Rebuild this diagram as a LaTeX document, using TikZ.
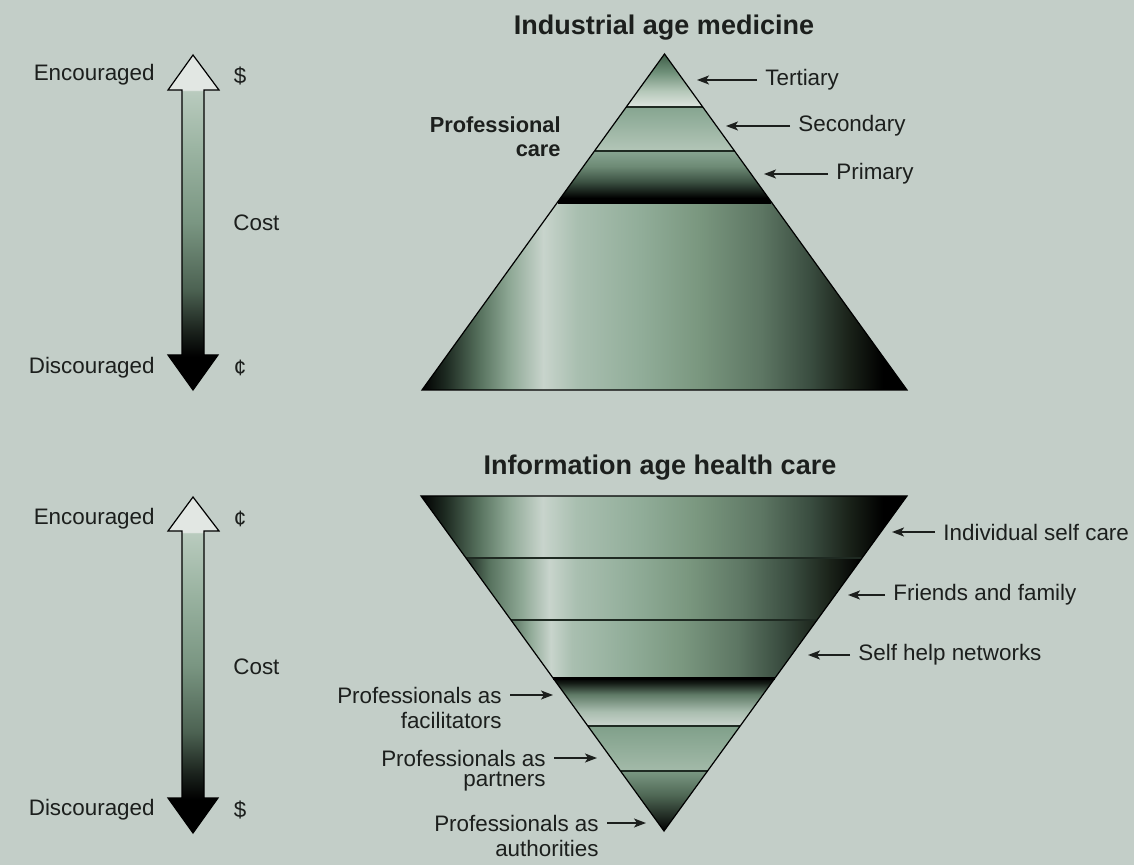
\documentclass[tikz,border=0pt]{standalone}
\usepackage{fontspec}
\setmainfont{Liberation Sans}
\usepackage{tikz}
\usetikzlibrary{arrows.meta}

\definecolor{bg}{HTML}{C3CEC8}
\definecolor{ink}{HTML}{1C1F1D}
\definecolor{rule}{HTML}{1F2A22}
\definecolor{sha}{HTML}{1E2B22}
\definecolor{shb}{HTML}{58735F}
\definecolor{shc}{HTML}{8EA895}
\definecolor{hilite}{HTML}{C8D4CC}
\definecolor{shd}{HTML}{A9BFB0}
\definecolor{she}{HTML}{91AD99}
\definecolor{shf}{HTML}{7A977F}
\definecolor{shg}{HTML}{5D7663}
\definecolor{shh}{HTML}{3A4D40}
\definecolor{shi}{HTML}{1A2219}
\definecolor{headfill}{HTML}{E2E7E3}
\definecolor{bara}{HTML}{B9CBBE}
\definecolor{barb}{HTML}{9BB4A2}
\definecolor{barc}{HTML}{7A9682}
\definecolor{bard}{HTML}{4C6252}
\definecolor{bare}{HTML}{1C241E}
\definecolor{terta}{HTML}{3F5E48}
\definecolor{tertm}{HTML}{6F9079}
\definecolor{tertb}{HTML}{B5C8B9}
\definecolor{tertc}{HTML}{DFE5E0}
\definecolor{secta}{HTML}{86A590}
\definecolor{sectb}{HTML}{B3C6B8}
\definecolor{prima}{HTML}{88A592}
\definecolor{primb}{HTML}{6D8A75}
\definecolor{primc}{HTML}{3C5243}
\definecolor{facla}{HTML}{CBD5CE}
\definecolor{faclb}{HTML}{A9BDAF}
\definecolor{faclc}{HTML}{5F7A66}
\definecolor{facld}{HTML}{141B16}
\definecolor{parta}{HTML}{80A08A}
\definecolor{partb}{HTML}{A3BAA9}
\definecolor{autha}{HTML}{7B9883}
\definecolor{authb}{HTML}{4F6855}
\definecolor{authc}{HTML}{1B231D}

% horizontal sheen, path box is 25bp..75bp
\pgfdeclarehorizontalshading{sheenA}{100bp}{color(0bp)=(black); color(25bp)=(black); color(27.5bp)=(sha); color(31bp)=(shb); color(34bp)=(shc); color(37.5bp)=(hilite); color(41bp)=(shd); color(47.5bp)=(she); color(53.5bp)=(shf); color(60bp)=(shg); color(65bp)=(shh); color(69bp)=(shi); color(72.5bp)=(black); color(100bp)=(black)}
\pgfdeclarehorizontalshading{sheenB}{100bp}{color(0bp)=(sha); color(25bp)=(sha); color(28bp)=(shb); color(32bp)=(shc); color(35.5bp)=(hilite); color(39bp)=(shd); color(46bp)=(she); color(53bp)=(shf); color(60bp)=(shg); color(66bp)=(shh); color(71bp)=(shi); color(75bp)=(black); color(100bp)=(black)}
\pgfdeclarehorizontalshading{sheenC}{100bp}{color(0bp)=(shb); color(25bp)=(shb); color(28bp)=(shc); color(31.5bp)=(hilite); color(35bp)=(shd); color(44bp)=(she); color(53bp)=(shf); color(62bp)=(shg); color(69bp)=(shh); color(75bp)=(shi); color(100bp)=(shi)}
% vertical ones, 0bp is the bottom
\pgfdeclareverticalshading{costbar}{100bp}{color(0bp)=(black); color(30bp)=(black); color(34bp)=(bare); color(40bp)=(bard); color(50bp)=(barc); color(61bp)=(barb); color(69.6bp)=(bara); color(69.8bp)=(headfill); color(100bp)=(headfill)}
\pgfdeclareverticalshading{tertshade}{100bp}{color(0bp)=(tertc); color(25bp)=(tertc); color(40bp)=(tertb); color(58bp)=(tertm); color(75bp)=(terta); color(100bp)=(terta)}
\pgfdeclareverticalshading{primshade}{100bp}{color(0bp)=(black); color(29bp)=(black); color(45bp)=(primc); color(60bp)=(primb); color(75bp)=(prima); color(100bp)=(prima)}
\pgfdeclareverticalshading{faclshade}{100bp}{color(0bp)=(facla); color(25bp)=(facla); color(40bp)=(faclb); color(58bp)=(faclc); color(70bp)=(facld); color(75bp)=(black); color(100bp)=(black)}
\pgfdeclareverticalshading{authshade}{100bp}{color(0bp)=(black); color(25bp)=(black); color(35bp)=(authc); color(55bp)=(authb); color(75bp)=(autha); color(100bp)=(autha)}

\tikzstyle{lbl} = [font=\fontsize{11.2}{13}\selectfont, text=ink, inner sep=4pt]
\tikzstyle{title} = [font=\fontsize{13.5}{16}\selectfont\bfseries, text=ink]
\tikzstyle{pointer} = [line width=0.8pt,->,>={Stealth[length=6pt,width=4.5pt,inset=1.5pt]}, draw=ink]
\tikzstyle{divider} = [line width=1pt, draw=rule]
\tikzstyle{outline} = [line width=0.6pt, draw=black, line join=miter]

\begin{document}
\begin{tikzpicture}[x=0.5pt, y=-0.5pt]

\useasboundingbox (0,0) rectangle (1134,865);
\fill[bg] (0,0) rectangle (1134,865);

% Cost arrows
\shade[shading=costbar] (193,55) -- (219,90) -- (204,90) -- (204,355) -- (218,355) -- (193,390) -- (168,355) -- (182,355) -- (182,90) -- (168,90) -- cycle;
\draw[outline] (193,55) -- (219,90) -- (204,90) -- (204,355) -- (218,355) -- (193,390) -- (168,355) -- (182,355) -- (182,90) -- (168,90) -- cycle;
\shade[shading=costbar] (193,497) -- (219,531) -- (204,531) -- (204,798) -- (218,798) -- (193,833) -- (168,798) -- (182,798) -- (182,531) -- (168,531) -- cycle;
\draw[outline] (193,497) -- (219,531) -- (204,531) -- (204,798) -- (218,798) -- (193,833) -- (168,798) -- (182,798) -- (182,531) -- (168,531) -- cycle;

\node (enc1) [lbl, anchor=east] at (163,75) {Encouraged};
\node (usd1) [lbl] at (240,76) {\$};
\node (cost1) [lbl, anchor=west] at (225,223) {Cost};
\node (disc1) [lbl, anchor=east] at (163,368) {Discouraged};
\node (cent1) [lbl] at (240,368) {¢};

\node (enc2) [lbl, anchor=east] at (163,519) {Encouraged};
\node (cent2) [lbl] at (240,519) {¢};
\node (cost2) [lbl, anchor=west] at (225,667) {Cost};
\node (disc2) [lbl, anchor=east] at (163,810) {Discouraged};
\node (usd2) [lbl] at (240,810) {\$};

% Industrial age pyramid
\coordinate (apex) at (664.5,54);
\coordinate (t1l) at (626.3,107);
\coordinate (t1r) at (702.7,107);
\coordinate (t2l) at (594.5,151);
\coordinate (t2r) at (734.5,151);
\coordinate (t3l) at (557.7,202);
\coordinate (t3r) at (771.3,202);
\coordinate (bl) at (422,390);
\coordinate (br) at (907,390);

\shade[shading=tertshade] (apex) -- (t1r) -- (t1l) -- cycle;
\shade[top color=secta, bottom color=sectb] (t1l) -- (t1r) -- (t2r) -- (t2l) -- cycle;
\shade[shading=primshade] (t2l) -- (t2r) -- (t3r) -- (t3l) -- cycle;
\shade[shading=sheenA] (t3l) -- (t3r) -- (br) -- (bl) -- cycle;
\draw[divider] (t1l) -- (t1r);
\draw[divider] (t2l) -- (t2r);
\draw[divider, line width=2pt, draw=black] (t3l) -- (t3r);
\draw[outline] (apex) -- (br) -- (bl) -- cycle;

\node (ind) [title] at (664,28) {Industrial age medicine};
\node (prof) [lbl, font=\fontsize{10.9}{12}\selectfont\bfseries, align=right, anchor=east] at (569,137) {Professional\\care};

\node (tert) [lbl, anchor=west] at (757,80) {Tertiary};
\node (sec) [lbl, anchor=west] at (790,126) {Secondary};
\node (prim) [lbl, anchor=west] at (828,174) {Primary};
\coordinate (tertP) at (697,80);
\coordinate (secP) at (726,126);
\coordinate (primP) at (764,174);
\draw [pointer] (tert.west) -- (tertP);
\draw [pointer] (sec.west) -- (secP);
\draw [pointer] (prim.west) -- (primP);

% Information age funnel
\coordinate (ftl) at (421,496);
\coordinate (ftr) at (907,496);
\coordinate (f1l) at (466,558);
\coordinate (f1r) at (862,558);
\coordinate (f2l) at (510.9,620);
\coordinate (f2r) at (817.1,620);
\coordinate (f3l) at (553,678);
\coordinate (f3r) at (775,678);
\coordinate (f4l) at (587.8,726);
\coordinate (f4r) at (740.2,726);
\coordinate (f5l) at (620.5,771);
\coordinate (f5r) at (707.5,771);
\coordinate (vtip) at (664,831);

\shade[shading=sheenA] (ftl) -- (ftr) -- (f1r) -- (f1l) -- cycle;
\shade[shading=sheenB] (f1l) -- (f1r) -- (f2r) -- (f2l) -- cycle;
\shade[shading=sheenC] (f2l) -- (f2r) -- (f3r) -- (f3l) -- cycle;
\shade[shading=faclshade] (f3l) -- (f3r) -- (f4r) -- (f4l) -- cycle;
\shade[top color=parta, bottom color=partb] (f4l) -- (f4r) -- (f5r) -- (f5l) -- cycle;
\shade[shading=authshade] (f5l) -- (f5r) -- (vtip) -- cycle;
\draw[divider] (f1l) -- (f1r);
\draw[divider] (f2l) -- (f2r);
\draw[divider, line width=1.5pt, draw=black] (f3l) -- (f3r);
\draw[divider] (f4l) -- (f4r);
\draw[divider] (f5l) -- (f5r);
\draw[outline] (ftl) -- (ftr) -- (vtip) -- cycle;

\node (info) [title] at (660,468) {Information age health care};

\node (self) [lbl, anchor=west] at (935,532) {Individual self care};
\node (fam) [lbl, anchor=west] at (885,595) {Friends and family};
\node (net) [lbl, anchor=west] at (850,655) {Self help networks};
\coordinate (selfP) at (892,532);
\coordinate (famP) at (848,595);
\coordinate (netP) at (808,655);
\draw [pointer] (self.west) -- (selfP);
\draw [pointer] (fam.west) -- (famP);
\draw [pointer] (net.west) -- (netP);

\node (facil) [lbl, anchor=east] at (510,695) {Professionals as};
\node (facil2) [lbl, anchor=east] at (510,720) {facilitators};
\node (partn) [lbl, anchor=east] at (554,758) {Professionals as};
\node (partn2) [lbl, anchor=east] at (554,782) {partners};
\node (auth) [lbl, anchor=east] at (607,823) {Professionals as};
\node (auth2) [lbl, anchor=east] at (607,848) {authorities};
\coordinate (facilP) at (553,695);
\coordinate (partnP) at (597,758);
\coordinate (authP) at (646,823);
\draw [pointer] (facil.east) -- (facilP);
\draw [pointer] (partn.east) -- (partnP);
\draw [pointer] (auth.east) -- (authP);

\end{tikzpicture}
\end{document}
